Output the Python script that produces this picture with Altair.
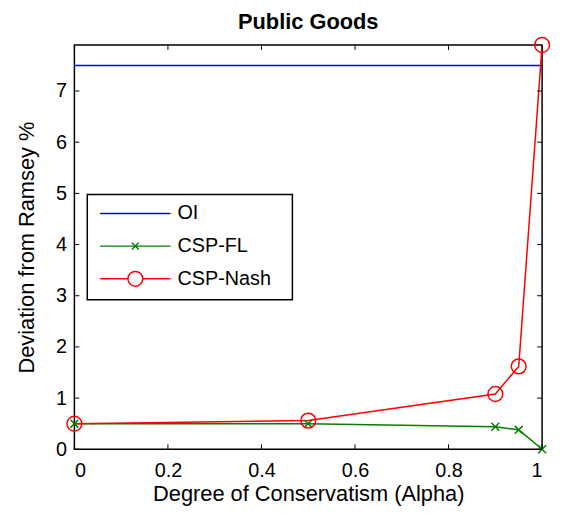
import altair as alt
import pandas as pd

# ---- data ----
alpha = [0.0, 0.5, 0.9, 0.95, 1.0]
oi = [7.5, 7.5, 7.5, 7.5, 7.5]
csp_fl = [0.5, 0.5, 0.44, 0.38, 0.0]
csp_nash = [0.5, 0.56, 1.08, 1.62, 7.9]
series_names = ["OI", "CSP-FL", "CSP-Nash"]
series_colors = ["#0000ff", "#008000", "#ff0000"]
x_ticks = [0, 0.2, 0.4, 0.6, 0.8, 1.0]
y_ticks = [0, 1, 2, 3, 4, 5, 6, 7]

rows = []
for name, vals in zip(series_names, [oi, csp_fl, csp_nash]):
    for i, (a, v) in enumerate(zip(alpha, vals)):
        rows.append({"series": name, "alpha": a, "value": v, "order": i})
df = pd.DataFrame(rows)

W, H = 472, 408
FONT = "Liberation Sans"
CROSS = "M-1,-1L1,1M-1,1L1,-1"

xs = alt.Scale(domain=[0, 1], nice=False, zero=False)
ys = alt.Scale(domain=[0, 7.9], nice=False)
x_axis = alt.Axis(values=x_ticks, format="~g", title="Degree of Conservatism (Alpha)",
                  labelPadding=11, titlePadding=4)
y_axis = alt.Axis(values=y_ticks, format="d", title="Deviation from Ramsey %",
                  labelPadding=8, titlePadding=17)
X = alt.X("alpha:Q", scale=xs, axis=x_axis)
Y = alt.Y("value:Q", scale=ys, axis=y_axis)

lines = alt.Chart(df).mark_line(strokeWidth=1.5).encode(
    x=X, y=Y,
    stroke=alt.Stroke("series:N", scale=alt.Scale(domain=series_names, range=series_colors), legend=None),
    detail="series:N",
    order="order:Q",
)

fl_pts = alt.Chart(df).transform_filter(alt.datum.series == "CSP-FL").mark_point(
    shape=CROSS, size=64, filled=False, strokeWidth=1.5, color="#008000", opacity=1
).encode(x=X, y=Y)

nash_pts = alt.Chart(df).transform_filter(alt.datum.series == "CSP-Nash").mark_point(
    shape="circle", size=225, filled=False, strokeWidth=1.5, color="#ff0000", opacity=1
).encode(x=X, y=Y)

# inward ticks on all four sides (MATLAB box style)
xt = pd.DataFrame({"alpha": x_ticks})
yt = pd.DataFrame({"value": y_ticks})
tick_b = alt.Chart(xt).mark_rule(color="black", strokeWidth=1).encode(x=X, y=alt.value(H), y2=alt.value(H - 5))
tick_t = alt.Chart(xt).mark_rule(color="black", strokeWidth=1).encode(x=X, y=alt.value(0), y2=alt.value(5))
tick_l = alt.Chart(yt).mark_rule(color="black", strokeWidth=1).encode(y=Y, x=alt.value(0), x2=alt.value(5))
tick_r = alt.Chart(yt).mark_rule(color="black", strokeWidth=1).encode(y=Y, x=alt.value(W), x2=alt.value(W - 5))

# legend box (placed in the plot area, like MATLAB's legend)
LX0, LX1, LY0, LY1 = 13, 220, 151, 257
ROW_Y = [170, 203, 236]
SYM_X0, SYM_X1, LABEL_X = 26, 97, 104
leg_layers = []
box_df = pd.DataFrame({"series": [series_names[0]]})
leg_layers.append(alt.Chart(box_df).mark_rect(fill="white", stroke="black", strokeWidth=1.5).encode(
    x=alt.value(LX0), x2=alt.value(LX1), y=alt.value(LY0), y2=alt.value(LY1)))
markers = [None, dict(shape=CROSS, size=49), dict(shape="circle", size=225)]
for name, col, ry, mk in zip(series_names, series_colors, ROW_Y, markers):
    one = pd.DataFrame({"series": [name]})
    leg_layers.append(alt.Chart(one).mark_rule(color=col, strokeWidth=1.5).encode(
        x=alt.value(SYM_X0), x2=alt.value(SYM_X1), y=alt.value(ry)))
    if mk is not None:
        leg_layers.append(alt.Chart(one).mark_point(filled=False, strokeWidth=1.5, color=col,
                                                    fill="white" if mk["shape"] == "circle" else None,
                                                    opacity=1, **mk).encode(
            x=alt.value((SYM_X0 + SYM_X1) / 2), y=alt.value(ry))
            if mk["shape"] == "circle" else
            alt.Chart(one).mark_point(filled=False, strokeWidth=1.5, color=col, opacity=1, **mk).encode(
            x=alt.value((SYM_X0 + SYM_X1) / 2), y=alt.value(ry)))
    leg_layers.append(alt.Chart(one).mark_text(font=FONT, fontSize=20, color="black",
                                               align="left", baseline="middle").encode(
        x=alt.value(LABEL_X), y=alt.value(ry), text="series:N"))

chart = alt.layer(
    lines, fl_pts, nash_pts, tick_b, tick_t, tick_l, tick_r, *leg_layers
).properties(
    width=W, height=H,
    background="white",
    title=alt.Title("Public Goods", font=FONT, fontSize=22, fontWeight="bold", color="black", offset=1),
    padding={"left": 7, "top": 0, "right": 0, "bottom": 5},
).configure_view(
    stroke="black", strokeWidth=1.5
).configure_axis(
    grid=False, ticks=False, domain=False,
    labelFont=FONT, labelFontSize=20, labelColor="black",
    titleFont=FONT, titleFontSize=22, titleFontWeight="normal", titleColor="black",
)

chart.save("out.html", embed_options={"renderer": "svg", "actions": False})
